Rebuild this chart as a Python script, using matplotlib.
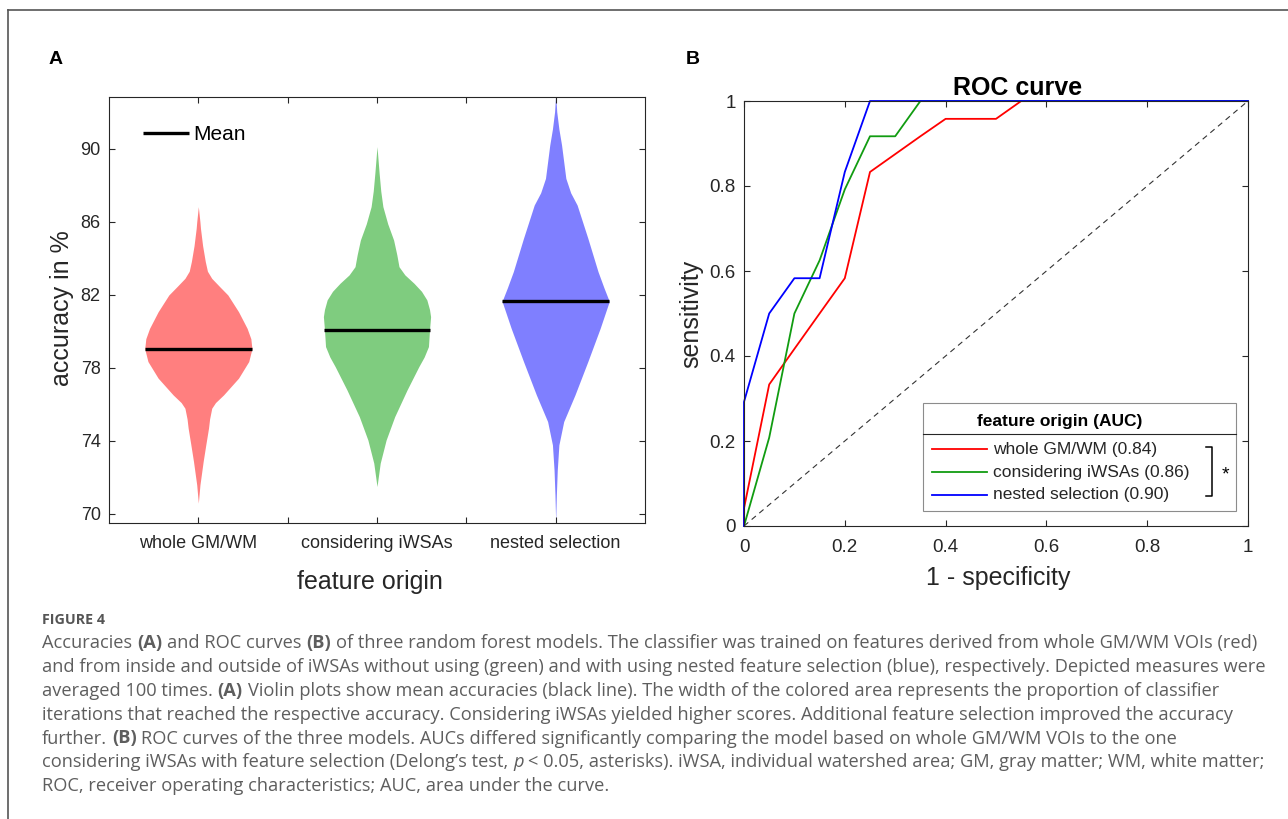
'''
Figura 4: precision (violines) y curvas ROC de tres modelos
'''

import matplotlib
matplotlib.use('Agg')
import matplotlib.pyplot as plt
from matplotlib import font_manager
from matplotlib.lines import Line2D
from matplotlib.patches import Rectangle

# ---- datos panel A ----
grupos = ['whole GM/WM', 'considering iWSAs', 'nested selection']
medias = [79.05, 80.1, 81.65]
colores_violin = ['#ff7f7f', '#7fcc7f', '#7f7fff']

# perfil de cada violin: accuracy y ancho relativo
rojo_acc = [86.84, 86.0, 85.65, 84.7, 83.83, 83.3, 82.91, 82.45, 82.0, 81.08, 80.17,
            79.6, 79.05, 78.35, 77.44, 76.52, 76.1, 75.79, 75.2, 74.7, 73.8, 72.87,
            71.59, 70.59]
rojo_anc = [0, 0.03, 0.04, 0.08, 0.13, 0.17, 0.25, 0.40, 0.55, 0.75, 0.91,
            0.98, 1.0, 0.94, 0.75, 0.47, 0.32, 0.25, 0.21, 0.19, 0.14, 0.09,
            0.03, 0]
verde_acc = [90.13, 89.4, 88.67, 87.7, 86.84, 85.9, 85.01, 84.2, 83.55, 83.1, 82.64,
             82.2, 81.73, 81.2, 80.81, 80.1, 79.17, 78.6, 78.07, 76.79, 75.33,
             74.05, 72.78, 71.5]
verde_anc = [0, 0.02, 0.04, 0.07, 0.11, 0.2, 0.31, 0.37, 0.41, 0.52, 0.69,
             0.83, 0.93, 0.98, 1.0, 0.98, 0.96, 0.88, 0.78, 0.56, 0.33,
             0.17, 0.06, 0]
azul_acc = [93.0, 92.04, 91.1, 90.22, 88.39, 87.6, 86.93, 85.11, 83.28, 82.4, 81.65,
            80.17, 78.35, 76.52, 75.06, 73.78, 72.4, 71.04, 69.58]
azul_anc = [0, 0.02, 0.06, 0.11, 0.19, 0.28, 0.40, 0.60, 0.79, 0.9, 1.0,
            0.83, 0.60, 0.36, 0.15, 0.06, 0.03, 0.013, 0]
perfiles = [(rojo_acc, rojo_anc), (verde_acc, verde_anc), (azul_acc, azul_anc)]

# ---- datos panel B ----
fpr_rojo = [0, 0, 0.05, 0.1, 0.15, 0.2, 0.25, 0.3, 0.35, 0.4, 0.5, 0.55, 1.0]
tpr_rojo = [0, 0.0417, 0.333, 0.4167, 0.5, 0.583, 0.833, 0.875, 0.917, 0.958, 0.958, 1, 1]
fpr_verde = [0, 0.05, 0.1, 0.15, 0.2, 0.25, 0.3, 0.35, 1.0]
tpr_verde = [0, 0.208, 0.5, 0.625, 0.792, 0.917, 0.917, 1, 1]
fpr_azul = [0, 0, 0.05, 0.1, 0.15, 0.2, 0.25, 1.0]
tpr_azul = [0, 0.292, 0.5, 0.583, 0.583, 0.833, 1, 1]
etiquetas_roc = ['whole GM/WM (0.84)', 'considering iWSAs (0.86)', 'nested selection (0.90)']
colores_roc = ['#ff0000', '#119c11', '#0000ff']

# ---- texto del pie ----
pie = [
    [('Accuracies ', 'n'), ('(A)', 'b'), (' and ROC curves ', 'n'), ('(B)', 'b'),
     (' of three random forest models. The classifier was trained on features derived from whole GM/WM VOIs (red)', 'n')],
    [('and from inside and outside of iWSAs without using (green) and with using nested feature selection (blue), respectively. Depicted measures were', 'n')],
    [('averaged 100 times. ', 'n'), ('(A)', 'b'),
     (' Violin plots show mean accuracies (black line). The width of the colored area represents the proportion of classifier', 'n')],
    [('iterations that reached the respective accuracy. Considering iWSAs yielded higher scores. Additional feature selection improved the accuracy', 'n')],
    [('further. ', 'n'), ('(B)', 'b'),
     (' ROC curves of the three models. AUCs differed significantly comparing the model based on whole GM/WM VOIs to the one', 'n')],
    [('considering iWSAs with feature selection (Delong\u2019s test, ', 'n'), ('p', 'i'),
     (' < 0.05, asterisks). iWSA, individual watershed area; GM, gray matter; WM, white matter;', 'n')],
    [('ROC, receiver operating characteristics; AUC, area under the curve.', 'n')],
]

nombres = {f.name for f in font_manager.fontManager.ttflist}
fuente = 'Liberation Sans' if 'Liberation Sans' in nombres else 'DejaVu Sans'
fuente_pie = next((n for n in ['Open Sans', 'Lato', 'Noto Sans'] if n in nombres), 'DejaVu Sans')
plt.rcParams['font.family'] = [fuente, 'DejaVu Sans']

W, H = 1288, 819
fig = plt.figure(figsize=(W / 100, H / 100), dpi=100)
gris = '#262626'


def estilo_ejes(ax, tam):
    for s in ax.spines.values():
        s.set_color(gris)
        s.set_linewidth(0.8)
    ax.tick_params(which='both', direction='in', top=True, right=True, length=4,
                   width=0.8, color=gris, labelcolor=gris, labelsize=tam)


# ---------------- panel A ----------------
ax = fig.add_axes([109 / W, 1 - 523 / H, 536 / W, 426 / H])
media_ancho = 0.3
for i, (acc, anc) in enumerate(perfiles):
    c = i + 1
    izq = [c - media_ancho * a for a in anc]
    der = [c + media_ancho * a for a in anc]
    ax.fill_betweenx(acc, izq, der, color=colores_violin[i], lw=0)
    k = acc.index(medias[i])
    ax.plot([izq[k], der[k]], [medias[i], medias[i]], color='k', lw=2.4,
            solid_capstyle='butt', label='Mean' if i == 0 else None)

ax.set_xlim(0.5, 3.5)
ax.set_ylim(69.5, 92.85)
ax.set_yticks([70, 74, 78, 82, 86, 90])
ax.set_xticks([1, 2, 3], grupos)
ax.set_xticks([1.5, 2.5], minor=True)
estilo_ejes(ax, 13)
ax.tick_params(axis='x', pad=9)
ax.tick_params(axis='y', pad=6)
ax.set_ylabel('accuracy in %', fontsize=18, color=gris)
ax.yaxis.set_label_coords(-0.066, 0.505)
ax.set_xlabel('feature origin', fontsize=18, color=gris)
ax.xaxis.set_label_coords(0.486, -0.110)
ax.legend(loc='center left', bbox_to_anchor=(0.0634, 0.9115), frameon=False,
          handlelength=2.2, handletextpad=0.2, borderaxespad=0, borderpad=0,
          fontsize=15)

# ---------------- panel B ----------------
bx = fig.add_axes([744 / W, 1 - 526 / H, 504 / W, 425 / H])
bx.plot([0, 1], [0, 1], color='#333333', lw=0.8, dashes=(5, 4))
for fpr, tpr, col in [(fpr_rojo, tpr_rojo, colores_roc[0]),
                      (fpr_verde, tpr_verde, colores_roc[1]),
                      (fpr_azul, tpr_azul, colores_roc[2])]:
    bx.plot(fpr, tpr, color=col, lw=1.3, clip_on=False)
bx.set_xlim(0, 1)
bx.set_ylim(0, 1)
ticks = [0, 0.2, 0.4, 0.6, 0.8, 1]
etq = ['0', '0.2', '0.4', '0.6', '0.8', '1']
bx.set_xticks(ticks, etq)
bx.set_yticks(ticks, etq)
estilo_ejes(bx, 13.5)
bx.tick_params(axis='x', pad=9)
bx.tick_params(axis='y', pad=6)
bx.set_ylabel('sensitivity', fontsize=18, color=gris)
bx.yaxis.set_label_coords(-0.081, 0.499)
bx.set_xlabel('1 - specificity', fontsize=18, color=gris)
bx.xaxis.set_label_coords(0.505, -0.094)
bx.set_title('ROC curve', fontsize=18, fontweight='bold', x=0.543, pad=4)

# leyenda con titulo y separador
bx.add_patch(Rectangle((0.355, 0.035), 0.621, 0.254, transform=bx.transAxes,
                       facecolor='white', edgecolor='#8c8c8c', lw=0.8, zorder=5))
bx.text(0.627, 0.247, 'feature origin (AUC)', transform=bx.transAxes, ha='center',
        va='center', fontsize=12.5, fontweight='bold', zorder=6)
bx.plot([0.355, 0.976], [0.2165, 0.2165], transform=bx.transAxes, color='#262626',
        lw=0.8, zorder=6)
for j, (lab, col) in enumerate(zip(etiquetas_roc, colores_roc)):
    yy = 0.181 - j * 0.054
    bx.plot([0.373, 0.482], [yy, yy], transform=bx.transAxes, color=col, lw=1.3, zorder=6)
    bx.text(0.494, yy, lab, transform=bx.transAxes, ha='left', va='center',
            fontsize=12.5, color=gris, zorder=6)
# corchete de significancia
bx.plot([0.917, 0.929, 0.929, 0.917], [0.186, 0.186, 0.0706, 0.0706],
        transform=bx.transAxes, color='k', lw=1.1, zorder=6)
bx.text(0.955, 0.12, '*', transform=bx.transAxes, ha='center', va='center',
        fontsize=14, zorder=6)

# etiquetas de panel
fig.text(55.5 / W, 1 - 60 / H, 'A', fontsize=14, fontweight='bold', ha='center', va='center')
fig.text(693 / W, 1 - 59 / H, 'B', fontsize=14, fontweight='bold', ha='center', va='center')

# marco
fig.add_artist(Line2D([8 / W, 8 / W], [0, 1 - 10 / H], color='#555555', lw=1.2))
fig.add_artist(Line2D([8 / W, 1], [1 - 10 / H, 1 - 10 / H], color='#555555', lw=1.2))

# ---------------- pie de figura ----------------
ren = fig.canvas.get_renderer()
color_pie = '#5e5e5e'
props = {'n': dict(fontweight='normal', fontstyle='normal'),
         'b': dict(fontweight='bold', fontstyle='normal'),
         'i': dict(fontweight='normal', fontstyle='italic')}


def ancho(texto, tam, tipo):
    t = fig.text(0, 0, texto, fontsize=tam, family=fuente_pie, **props[tipo])
    w = t.get_window_extent(renderer=ren).width
    t.remove()
    return w


def escribir_linea(partes, x0, y_base, tam, dibujar=True):
    esp = ancho('a a', tam, 'n') - ancho('aa', tam, 'n')
    x = x0
    for texto, tipo in partes:
        x += esp * (len(texto) - len(texto.lstrip(' ')))
        limpio = texto.strip(' ')
        if dibujar:
            fig.text(x / W, 1 - y_base / H, limpio, fontsize=tam, family=fuente_pie,
                     color=color_pie, va='baseline', ha='left', **props[tipo])
        x += ancho(limpio, tam, tipo)
        x += esp * (len(texto) - len(texto.rstrip(' ')))
    return x - x0


# ajustar el tamaño para que la primera linea ocupe lo mismo que en el original
tam_pie = 10 * 1212 / escribir_linea(pie[0], 0, 0, 10, dibujar=False)
fig.text(42 / W, 1 - 624 / H, 'FIGURE 4', fontsize=tam_pie * 0.78, family=fuente_pie,
         fontweight='bold', color='#555555', va='baseline')
for i, partes in enumerate(pie):
    escribir_linea(partes, 42, 648.3 + 23.8 * i, tam_pie)

fig.savefig('out.png', dpi=100)
